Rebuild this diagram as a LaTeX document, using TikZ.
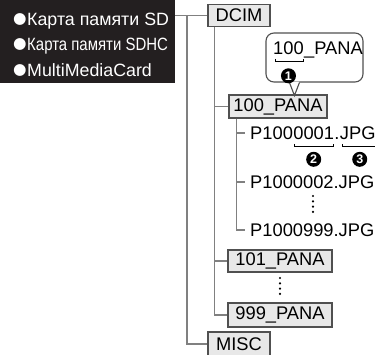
\documentclass[tikz,border=0pt]{standalone}
\usepackage{fontspec}
\setmainfont{Liberation Sans}
\newfontfamily\dejavu{DejaVu Sans}
\usetikzlibrary{calc}
\definecolor{linegray}{HTML}{808080}
\definecolor{boxgray}{HTML}{505050}
\definecolor{boxfill}{HTML}{E8E8E8}
\definecolor{cardbg}{HTML}{231F20}
\newcommand\fsz{\fontsize{18.3}{20}\selectfont}
\newcommand\cardbullet{\raisebox{1.6pt}{\dejavu\fontsize{15.5}{15}\selectfont ●}\hspace{0.5pt}}
\begin{document}
\begin{tikzpicture}[x=1pt,y=-1pt,
  conn/.style={draw=linegray, line width=1.3pt},
  folder/.style={draw=boxgray, fill=boxfill, line width=1.1pt, inner sep=0pt, minimum height=22pt, font=\fsz},
  txt/.style={inner sep=0pt, font=\fsz},
  cardtxt/.style={inner sep=0pt, text=white, anchor=west, font=\fontsize{17.8}{20}\selectfont},
  brk/.style={draw=black, line width=0.9pt},
  num/.style={circle, fill=black, text=white, inner sep=0pt, minimum size=15pt, font=\bfseries\fontsize{12.5}{12}\selectfont}]
\useasboundingbox (0,0) rectangle (375,354);
% card list
\node[fill=cardbg, minimum width=175pt, minimum height=83pt, inner sep=0pt, anchor=north west] (cards) at (0,0) {};
\node[cardtxt] (card1) at (13,21) {\cardbullet Карта памяти SD};
\node[cardtxt] (card2) at (13,46) {\cardbullet\scalebox{0.84}[1]{Карта памяти SDHC}};
\node[cardtxt] (card3) at (13,70) {\cardbullet MultiMediaCard};
% folders
\node[folder, minimum width=62pt] (dcim) at (239,15.5) {DCIM};
\node[folder, minimum width=98pt, minimum height=23pt] (p100) at (278,106.5) {100\_PANA};
\node[folder, minimum width=104pt] (p101) at (280,261) {101\_PANA};
\node[folder, minimum width=104pt, minimum height=24pt] (p999) at (280,315) {999\_PANA};
\node[folder, minimum width=62pt, minimum height=24pt] (misc) at (239,344) {MISC};
% files
\node[txt, anchor=west] (f1a) at (250,133) {P100};
\node[txt, anchor=base west] (f1b) at (f1a.base east) {0001};
\node[txt, anchor=base west] (f1c) at (f1b.base east) {.};
\node[txt, anchor=base west] (f1d) at (f1c.base east) {JPG};
\node[txt, anchor=west] (f2) at (250,182) {P1000002.JPG};
\node[txt, anchor=west] (f3) at (250,230) {P1000999.JPG};
% connectors
\draw[conn] (cards.east |- dcim.west) -- (dcim.west);
\coordinate (trunk) at (187,16);
\draw[conn] (trunk) |- (misc.west);
\coordinate (dv) at ($(dcim.south west)+(7,0)$);
\draw[conn] (dv) |- (p100.west);
\draw[conn] (dv) |- (p101.west);
\draw[conn] (dv) |- (p999.west);
\coordinate (pv) at ($(p100.south west)+(8,0)$);
\draw[conn, shorten >=5pt] (pv) |- (f1a.west);
\draw[conn, shorten >=5pt] (pv) |- (f2.west);
\draw[conn, shorten >=5pt] (pv) |- (f3.west);
% dots
\foreach \i in {0,1,2,3} {
  \fill (313,196+5.3*\i) circle (1.2pt);
  \fill (280,278+5.3*\i) circle (1.2pt);
}
% callout
\node[draw=boxgray, line width=1.1pt, fill=white, rounded corners=8pt, minimum width=97pt, minimum height=49pt, inner sep=0pt] (cbox) at (314.5,57.5) {};
\coordinate (pl) at ($(cbox.south west)+(24,0)$);
\coordinate (pr) at ($(cbox.south west)+(34,0)$);
\coordinate (tip) at ($(cbox.south west)+(29,13)$);
\fill[white] ($(pl)+(0,-1)$) -- (tip) -- ($(pr)+(0,-1)$) -- cycle;
\draw[draw=boxgray, line width=1.1pt, line join=miter] (pl) -- (tip) -- (pr);
\node[txt, anchor=west] (c1a) at (273,48) {100};
\node[txt, anchor=base west] (c1b) at (c1a.base east) {\_PANA};
% brackets
\draw[brk] ($(c1a.base west)+(2,4.5)$) -- ++(0,3) -| ($(c1a.base east)+(0,4.5)$);
\node[num] (n1) at ($(c1a.base)+(0,21.5)$) {1};
\draw[brk] ($(f1b.base west)+(1,4.5)$) -- ++(0,3) -| ($(f1b.base east)+(-0.5,4.5)$);
\node[num] (n2) at ($(f1b.base)+(0,20)$) {2};
\draw[brk] ($(f1d.base west)+(2.5,4.5)$) -- ++(0,3) -| ($(f1d.base east)+(0,4.5)$);
\node[num] (n3) at ($(f1d.base)+(2,20)$) {3};
\end{tikzpicture}
\end{document}
